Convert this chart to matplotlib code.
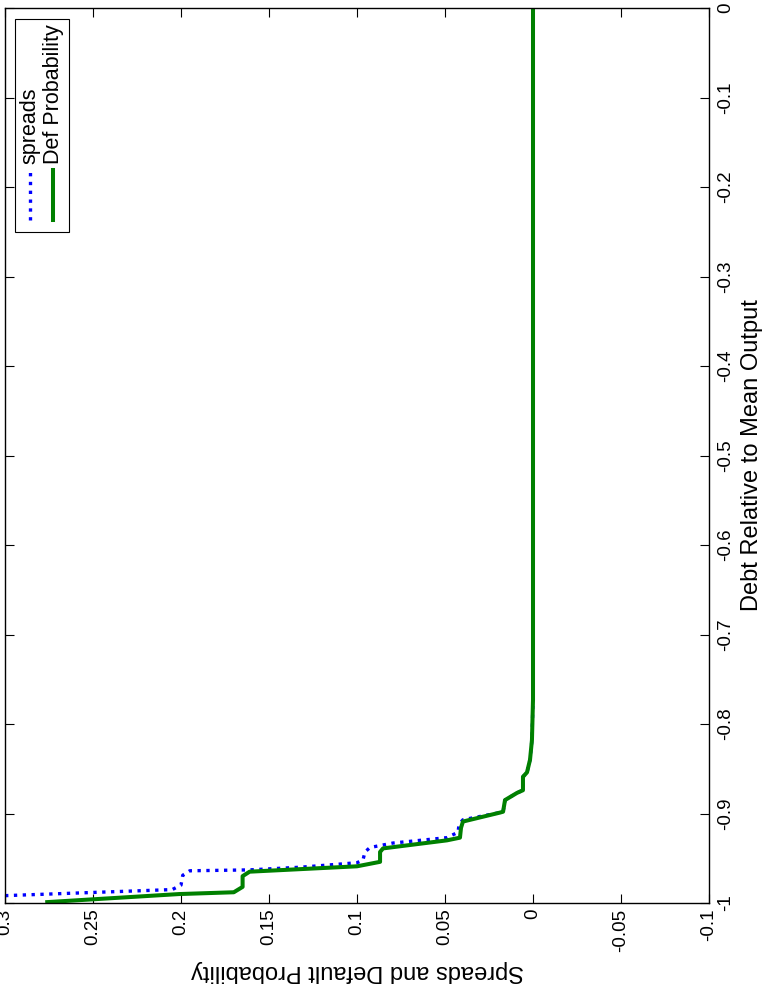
import matplotlib
matplotlib.use('Agg')
import matplotlib.pyplot as plt
from matplotlib.patches import Rectangle
from matplotlib.lines import Line2D

plt.rcParams['font.family'] = ['Liberation Sans', 'DejaVu Sans']
plt.rcParams['axes.unicode_minus'] = False

# ── data ───────────────────────────────────────────────────────────────
# debt relative to mean output (vertical, page is rotated) and curve values
debt_def = [0.0, -0.773, -0.818, -0.840, -0.854, -0.859, -0.874, -0.877,
            -0.885, -0.898, -0.899, -0.909, -0.916, -0.927, -0.930, -0.939,
            -0.943, -0.954, -0.959, -0.965, -0.970, -0.982, -0.988, -0.990,
            -0.999]
def_prob = [0.0, 0.0, 0.0006, 0.0017, 0.0034, 0.0057, 0.0057, 0.0091,
            0.0159, 0.0170, 0.0188, 0.0398, 0.0409, 0.0415, 0.0489, 0.0852,
            0.0869, 0.0869, 0.100, 0.161, 0.165, 0.165, 0.170, 0.201,
            0.276]

debt_spr = [0.0, -0.773, -0.818, -0.840, -0.854, -0.859, -0.874, -0.877,
            -0.885, -0.898, -0.899, -0.907, -0.912, -0.921, -0.927, -0.933,
            -0.938, -0.943, -0.952, -0.955, -0.960, -0.963, -0.964, -0.969,
            -0.980, -0.985, -0.992, -0.999]
spreads = [0.0, 0.0, 0.0006, 0.0017, 0.0034, 0.0057, 0.0057, 0.0091,
           0.0159, 0.0170, 0.0188, 0.0398, 0.0420, 0.0426, 0.0490, 0.0795,
           0.0926, 0.0955, 0.0966, 0.100, 0.132, 0.161, 0.195, 0.199,
           0.200, 0.205, 0.303, 0.350]

val_ticks = [0.3, 0.25, 0.2, 0.15, 0.1, 0.05, 0, -0.05, -0.1]
val_labels = ['0.3', '0.25', '0.2', '0.15', '0.1', '0.05', '0', '-0.05', '-0.1']
debt_ticks = [0, -0.1, -0.2, -0.3, -0.4, -0.5, -0.6, -0.7, -0.8, -0.9, -1]
debt_labels = ['0', '-0.1', '-0.2', '-0.3', '-0.4', '-0.5', '-0.6', '-0.7',
               '-0.8', '-0.9', '-1']

BLUE = '#0000ff'
GREEN = '#008000'

W, H, DPI = 772, 997, 100
fig = plt.figure(figsize=(W / DPI, H / DPI), dpi=DPI)
fig.patch.set_facecolor('white')

# axes box in pixels: x 5..709, y 8..903 (from top)
AX_L, AX_R, AX_T, AX_B = 5, 709, 8, 903
ax = fig.add_axes([AX_L / W, 1 - AX_B / H, (AX_R - AX_L) / W, (AX_B - AX_T) / H])

ax.plot(spreads, debt_spr, ls=':', color=BLUE, lw=2.4)
ax.plot(def_prob, debt_def, ls='-', color=GREEN, lw=2.9,
        solid_joinstyle='round')

ax.set_xlim(0.3, -0.1)
ax.set_ylim(-1, 0)

ax.set_xticks(val_ticks)
ax.set_xticklabels(val_labels, rotation=90, fontsize=13.5)
ax.set_yticks(debt_ticks)
ax.set_yticklabels(debt_labels, rotation=90, fontsize=13.5, va='center')

ax.tick_params(direction='in', length=6.5, width=0.8, top=True, bottom=True,
               left=True, right=True, labelleft=False, labelright=True)
ax.tick_params(axis='x', pad=4)
ax.tick_params(axis='y', pad=6)
for sp in ax.spines.values():
    sp.set_linewidth(1.0)

ax.set_xlabel('Spreads and Default Probability', fontsize=17, rotation=180)
ax.xaxis.set_label_coords(0.5, -0.064)
ax.yaxis.set_label_position('right')
ax.set_ylabel('Debt Relative to Mean Output', fontsize=17, rotation=90)
ax.yaxis.set_label_coords(1.046, 0.5)

# ── legend, drawn by hand so it can be rotated with the page ───────────
def ax_frac(px, py):
    return ((px - AX_L) / (AX_R - AX_L), (AX_B - py) / (AX_B - AX_T))

x0, y0 = ax_frac(15, 232)
x1, y1 = ax_frac(69, 19)
ax.add_patch(Rectangle((x0, y0), x1 - x0, y1 - y0, transform=ax.transAxes,
                       fc='white', ec='black', lw=0.8, zorder=10))

for px, col, ls, lw, name in [(30, BLUE, ':', 2.4, 'spreads'),
                              (53, GREEN, '-', 2.9, 'Def Probability')]:
    lx, ly0 = ax_frac(px, 220)
    _, ly1 = ax_frac(px, 170)
    ax.add_line(Line2D([lx, lx], [ly0, ly1], transform=ax.transAxes,
                       color=col, ls=ls, lw=lw, zorder=11))
    _, ty = ax_frac(px, 164)
    ax.text(lx, ty, name, transform=ax.transAxes, rotation=90, fontsize=15.5,
            ha='center', va='bottom', zorder=12)

fig.savefig('out.png', dpi=DPI, facecolor='white')
